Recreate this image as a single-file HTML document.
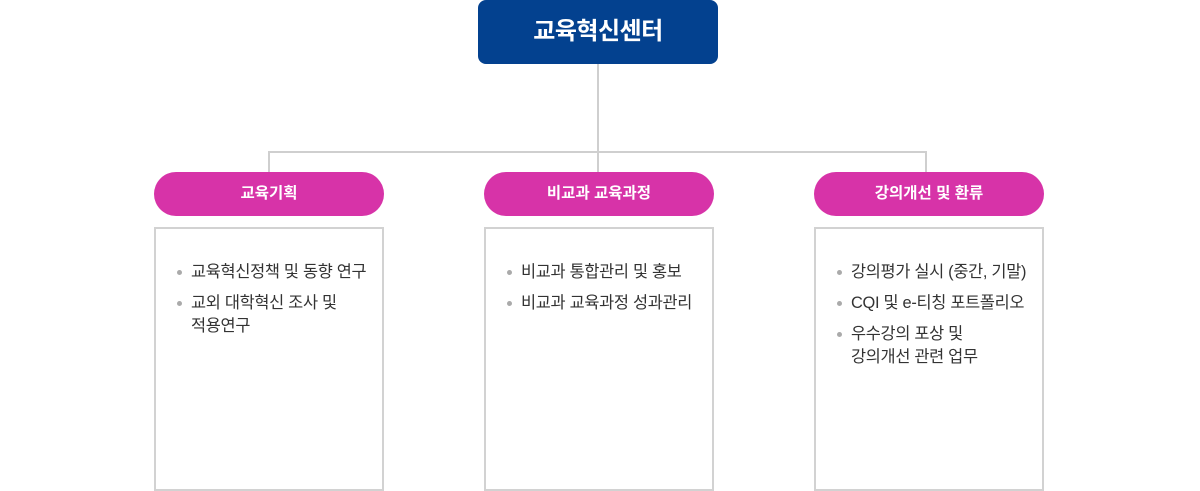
<!DOCTYPE html>
<html><head><meta charset="utf-8"><style>
body{margin:0;width:1200px;height:484px;background:#fff;position:relative;overflow:hidden;font-family:"Liberation Sans","Noto Sans CJK KR",sans-serif}
.a{position:absolute}
.top{left:478px;top:0;width:240px;height:64px;background:#03418f;border-radius:8px;color:#fff;font-size:24px;font-weight:bold;text-align:center;line-height:64px;letter-spacing:-0.5px}
.pill{top:172px;width:230px;height:44px;background:#d733a8;border-radius:22px;color:#fff;font-size:15.5px;font-weight:bold;text-align:center;line-height:44px}
.box{top:227px;width:226px;height:260px;border:2px solid #d2d2d2}
ul{margin:0;padding:0;list-style:none;position:absolute;left:35px;top:32px;right:0}
li{position:relative;font-size:16.4px;color:#333;line-height:23px;margin-bottom:8px;letter-spacing:-0.3px;white-space:nowrap}
li:before{content:"";position:absolute;left:-14px;top:9px;width:5px;height:5px;border-radius:50%;background:#aaa}
.l{background:#cfcfcf}
</style></head><body>
<div class="a l" style="left:597px;top:64px;width:2px;height:108px"></div>
<div class="a l" style="left:268px;top:151px;width:659px;height:2px"></div>
<div class="a l" style="left:268px;top:151px;width:2px;height:21px"></div>
<div class="a l" style="left:925px;top:151px;width:2px;height:21px"></div>
<div class="a top">교육혁신센터</div>
<div class="a pill" style="left:154px">교육기획</div>
<div class="a pill" style="left:484px">비교과 교육과정</div>
<div class="a pill" style="left:814px">강의개선 및 환류</div>
<div class="a box" style="left:154px"><ul><li>교육혁신정책 및 동향 연구</li><li>교외 대학혁신 조사 및<br>적용연구</li></ul></div>
<div class="a box" style="left:484px"><ul><li>비교과 통합관리 및 홍보</li><li>비교과 교육과정 성과관리</li></ul></div>
<div class="a box" style="left:814px"><ul><li>강의평가 실시 (중간, 기말)</li><li>CQI 및 e-티칭 포트폴리오</li><li>우수강의 포상 및<br>강의개선 관련 업무</li></ul></div>
</body></html>
